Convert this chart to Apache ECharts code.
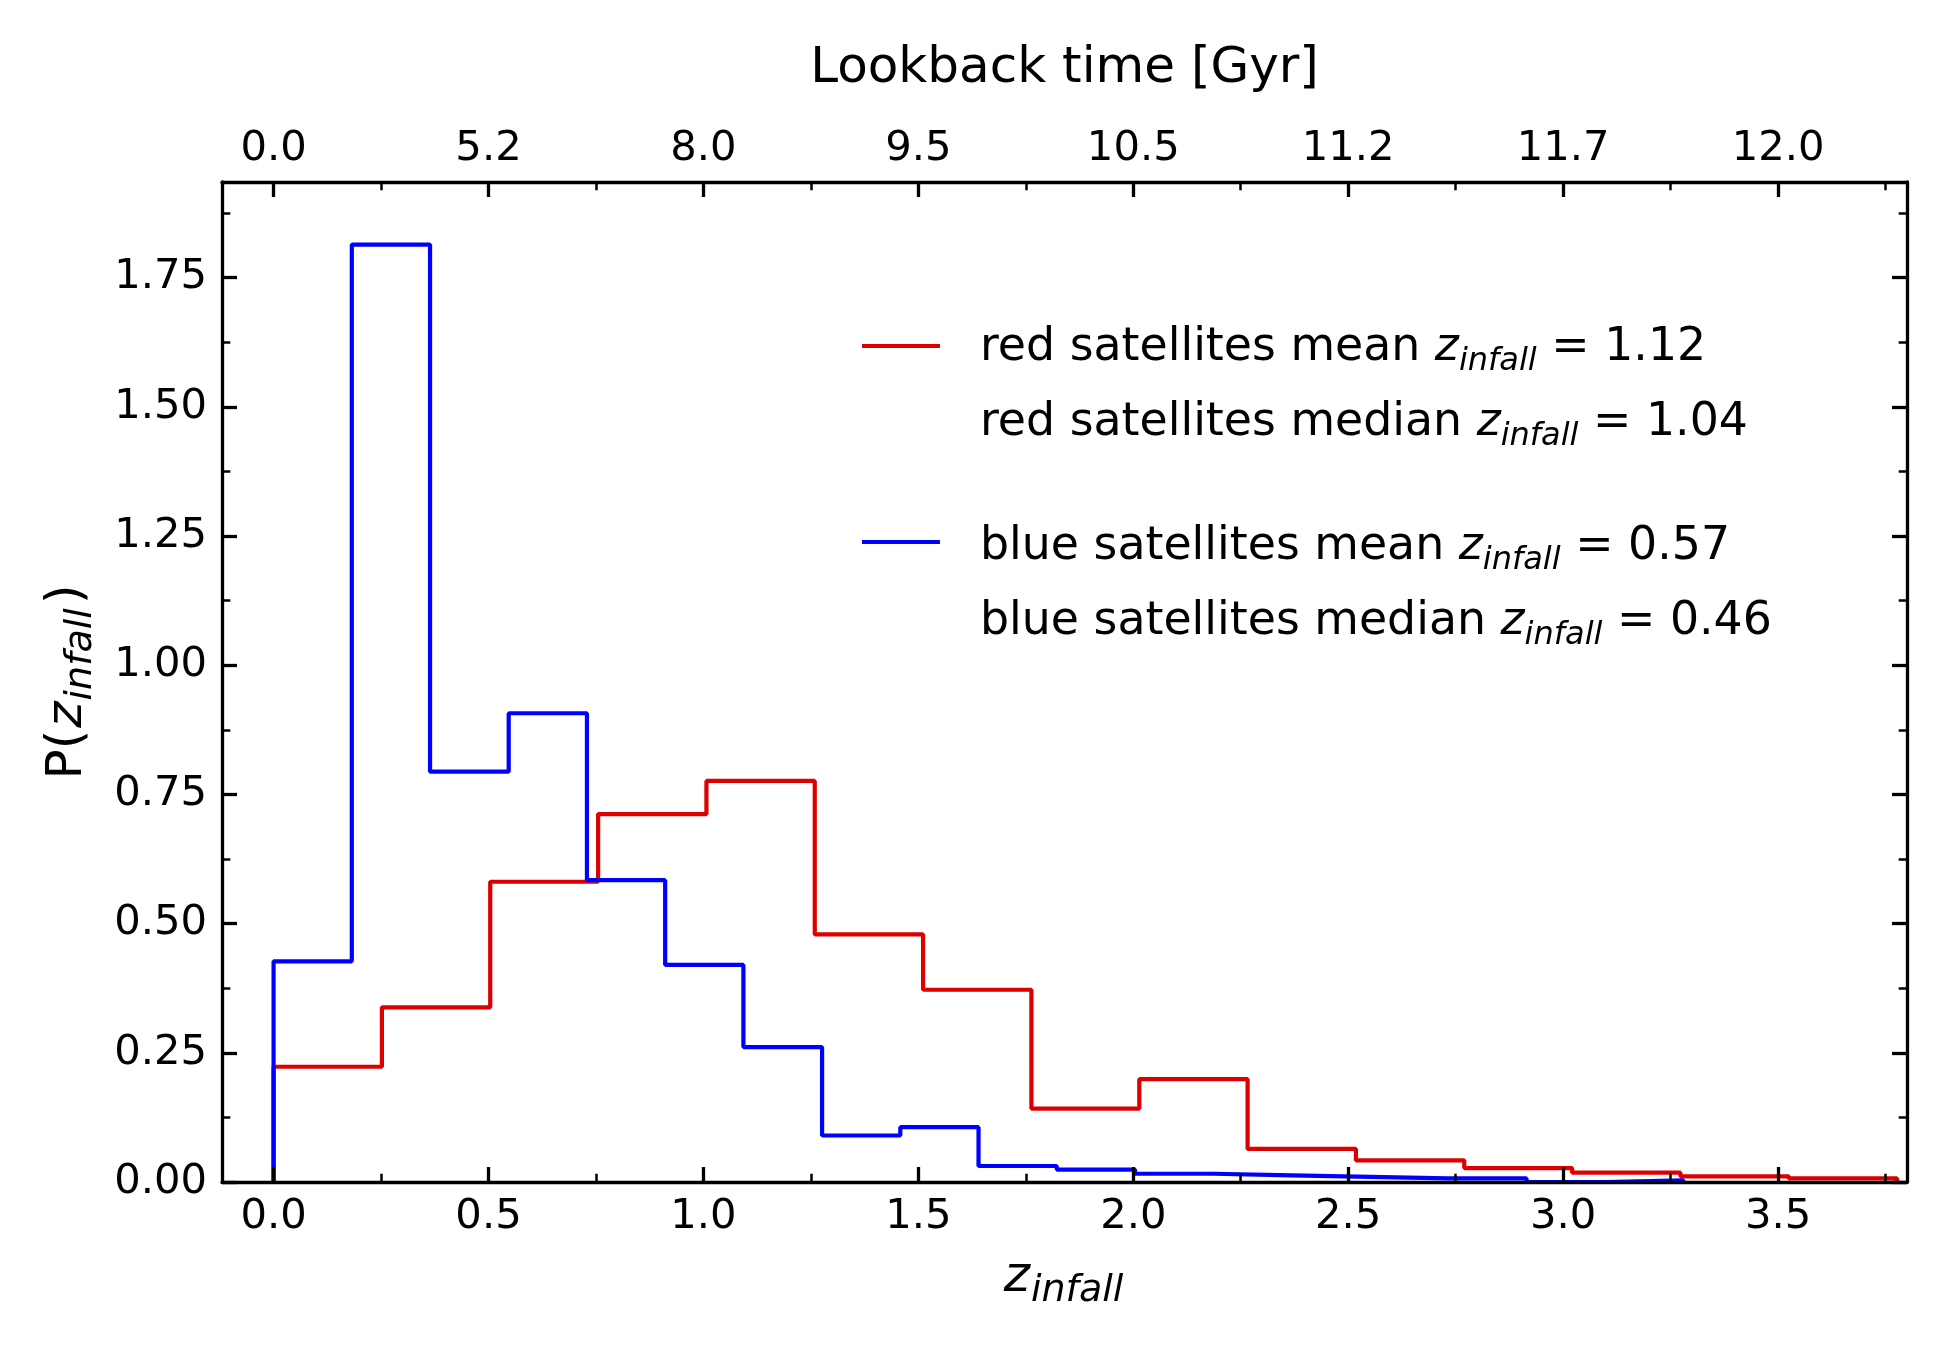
<!DOCTYPE html>
<html>
<head>
<meta charset="utf-8">
<script src="https://cdn.jsdelivr.net/npm/echarts@6/dist/echarts.min.js"></script>
<style>
  html, body { margin: 0; padding: 0; background: #fff; }
  #chart { width: 1950px; height: 1350px; }
</style>
</head>
<body>
<div id="chart"></div>
<script>
// histogram bins
const redEdges = [0, 0.252, 0.504, 0.755, 1.007, 1.259, 1.511, 1.763, 2.014, 2.266, 2.518, 2.770, 3.021, 3.273, 3.525, 3.777];
const redValues = [0.223, 0.338, 0.581, 0.712, 0.776, 0.479, 0.372, 0.142, 0.199, 0.064, 0.042, 0.027, 0.018, 0.011, 0.007];
const blueEdges = [0, 0.182, 0.364, 0.547, 0.729, 0.911, 1.093, 1.276, 1.458, 1.640, 1.822, 2.004, 2.187, 2.369, 2.551, 2.733, 2.915, 3.098, 3.280];
const blueValues = [0.427, 1.814, 0.794, 0.907, 0.584, 0.420, 0.261, 0.090, 0.106, 0.031, 0.024, 0.016, 0.013, 0.010, 0.007, 0.007, 0.0, 0.003];

// ticks
const zTicks = [0, 0.5, 1.0, 1.5, 2.0, 2.5, 3.0, 3.5];
const zMinorTicks = [0.25, 0.75, 1.25, 1.75, 2.25, 2.75, 3.25, 3.75];
const lookbackLabels = ['0.0', '5.2', '8.0', '9.5', '10.5', '11.2', '11.7', '12.0'];
const pTicks = [0, 0.25, 0.5, 0.75, 1.0, 1.25, 1.5, 1.75];
const pMinorTicks = [0.125, 0.375, 0.625, 0.875, 1.125, 1.375, 1.625, 1.875];

// legend lines
const legendRows = [
  { color: '#dd0000', label: 'red satellites mean ', value: '1.12' },
  { color: null, label: 'red satellites median ', value: '1.04' },
  { color: '#0000ff', label: 'blue satellites mean ', value: '0.57' },
  { color: null, label: 'blue satellites median ', value: '0.46' }
];

const FONT = 'DejaVu Sans';
const X_MIN = -0.12, X_MAX = 3.80;
const Y_MIN = 0, Y_MAX = 1.935;

function stepData(edges, values) {
  const pts = [[edges[0], 0]];
  values.forEach((v, i) => pts.push([edges[i], v]));
  pts.push([edges[edges.length - 1], 0]);
  return pts;
}

const tickFont = { fontFamily: FONT, fontSize: 41.7, color: '#000', lineHeight: 44 };

function majorX(position, labels) {
  return {
    type: 'value', position, min: X_MIN, max: X_MAX, z: 5,
    axisLine: { show: true, onZero: false, lineStyle: { color: '#000', width: 3.3 } },
    axisTick: { show: true, inside: true, length: 15, customValues: zTicks, lineStyle: { color: '#000', width: 3.3 } },
    axisLabel: Object.assign({ show: true, customValues: zTicks, formatter: labels, margin: position === 'top' ? 11 : 13 }, tickFont),
    splitLine: { show: false }
  };
}
function minorX(position) {
  return {
    type: 'value', position, min: X_MIN, max: X_MAX, z: 5,
    axisLine: { show: false, onZero: false },
    axisTick: { show: true, inside: true, length: 8.3, customValues: zMinorTicks, lineStyle: { color: '#000', width: 2.5 } },
    axisLabel: { show: false },
    splitLine: { show: false }
  };
}
function majorY(position, showLabels) {
  return {
    type: 'value', position, min: Y_MIN, max: Y_MAX, z: 5,
    axisLine: { show: true, onZero: false, lineStyle: { color: '#000', width: 3.3 } },
    axisTick: { show: true, inside: true, length: 15, customValues: pTicks, lineStyle: { color: '#000', width: 3.3 } },
    axisLabel: Object.assign({ show: showLabels, customValues: pTicks, formatter: v => v.toFixed(2), margin: 15, padding: [8, 0, 0, 0] }, tickFont),
    splitLine: { show: false }
  };
}
function minorY(position) {
  return {
    type: 'value', position, min: Y_MIN, max: Y_MAX, z: 5,
    axisLine: { show: false, onZero: false },
    axisTick: { show: true, inside: true, length: 8.3, customValues: pMinorTicks, lineStyle: { color: '#000', width: 2.5 } },
    axisLabel: { show: false },
    splitLine: { show: false }
  };
}

const nameRich = {
  n: { fontFamily: FONT, fontSize: 50, lineHeight: 64, color: '#000', padding: [0, 2, 0, 2] },
  z: { fontFamily: FONT, fontStyle: 'italic', fontSize: 50, lineHeight: 64, color: '#000' },
  s: { fontFamily: FONT, fontStyle: 'italic', fontSize: 38, lineHeight: 40, verticalAlign: 'bottom', color: '#000', padding: [0, 2, 0, 1] }
};

const bottomX = majorX('bottom', v => v.toFixed(1));
bottomX.name = '{z|z}{s|infall}';
bottomX.nameLocation = 'middle';
bottomX.nameGap = 64;
bottomX.nameTextStyle = { rich: nameRich };

const topX = majorX('top', v => {
  const i = zTicks.findIndex(t => Math.abs(t - v) < 1e-6);
  return i >= 0 ? lookbackLabels[i] : '';
});
topX.name = 'Lookback time [Gyr]';
topX.nameLocation = 'middle';
topX.nameGap = 83;
topX.nameTextStyle = { fontFamily: FONT, fontSize: 50, lineHeight: 60, color: '#000' };

const leftY = majorY('left', true);
leftY.name = '{n|P(}{z|z}{s|infall}{n|)}';
leftY.nameLocation = 'middle';
leftY.nameRotate = 90;
leftY.nameGap = 122;
leftY.nameTextStyle = { rich: nameRich };

// legend drawn as graphic elements
const legendRich = {
  n: { fontFamily: FONT, fontSize: 45.8, lineHeight: 60, fill: '#000', color: '#000' },
  z: { fontFamily: FONT, fontStyle: 'italic', fontSize: 45.8, lineHeight: 60, fill: '#000', color: '#000' },
  s: { fontFamily: FONT, fontStyle: 'italic', fontSize: 32, lineHeight: 36, verticalAlign: 'bottom', fill: '#000', color: '#000' }
};
const legendTextY = [348, 423, 547, 622];
const legendLineY = [346, null, 542, null];
const legendGraphics = [];
legendRows.forEach((row, i) => {
  if (row.color) {
    legendGraphics.push({
      type: 'line', z: 10,
      shape: { x1: 862, y1: legendLineY[i], x2: 940, y2: legendLineY[i] },
      style: { stroke: row.color, lineWidth: 4.2 }
    });
  }
  legendGraphics.push({
    type: 'text', z: 10, x: 980, y: legendTextY[i],
    style: {
      text: '{n|' + row.label + '}{z|z}{s|infall}{n| = ' + row.value + '}',
      rich: legendRich,
      align: 'left', verticalAlign: 'middle'
    }
  });
});

const chart = echarts.init(document.getElementById('chart'), null, { renderer: 'canvas' });
chart.setOption({
  animation: false,
  backgroundColor: '#fff',
  textStyle: { fontFamily: FONT },
  grid: { left: 222, right: 43, top: 182, bottom: 168, containLabel: false },
  xAxis: [bottomX, minorX('bottom'), topX, minorX('top')],
  yAxis: [leftY, minorY('left'), majorY('right', false), minorY('right')],
  series: [
    {
      name: 'red', type: 'line', step: 'end', showSymbol: false, z: 2,
      xAxisIndex: 0, yAxisIndex: 0,
      lineStyle: { color: '#dd0000', width: 4.2 },
      data: stepData(redEdges, redValues)
    },
    {
      name: 'blue', type: 'line', step: 'end', showSymbol: false, z: 3,
      xAxisIndex: 0, yAxisIndex: 0,
      lineStyle: { color: '#0000ff', width: 4.2 },
      data: stepData(blueEdges, blueValues)
    }
  ],
  graphic: legendGraphics
});
</script>
</body>
</html>
